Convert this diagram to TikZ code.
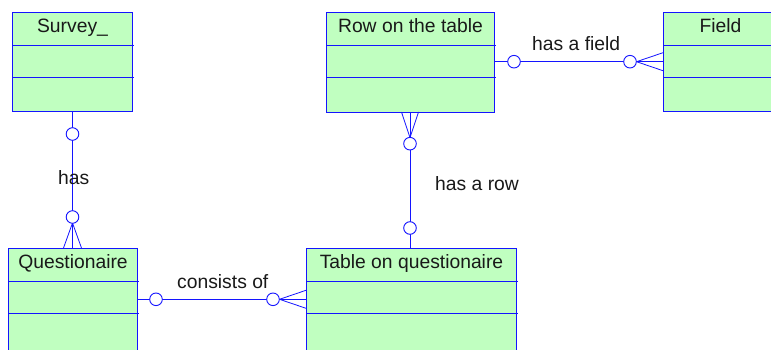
\documentclass[tikz,border=0pt]{standalone}
\usepackage{fontspec}
\setmainfont{Liberation Sans}
\usetikzlibrary{calc}
\definecolor{erblue}{RGB}{20,20,255}
\definecolor{ergreen}{RGB}{192,255,192}
\begin{document}
\begin{tikzpicture}[x=1pt,y=-1pt,
  entity/.style={draw=erblue, fill=ergreen, line width=1pt, rectangle, inner sep=0pt, anchor=north west},
  sepline/.style={draw=erblue, line width=0.9pt},
  etitle/.style={font=\fontsize{19.3}{21}\selectfont, anchor=base, inner sep=0pt, text=black!90},
  rlabel/.style={font=\fontsize{19.3}{21}\selectfont, anchor=base west, inner sep=0pt, text=black!90},
  conn/.style={draw=erblue, line width=0.9pt},
  crow/.style={draw=erblue, line width=0.8pt},
  opt/.style={draw=erblue, fill=white, line width=0.9pt, circle, inner sep=0pt, minimum size=12.6pt}]
\clip (0,0) rectangle (771,350);
\fill[white] (0,0) rectangle (771,350);
% entities
\newcommand{\erentity}[6]{%
  \node[entity, minimum width=#4-#2, minimum height=#5-#3] (#1) at (#2,#3) {};
  \draw[sepline] (#2,#3+33) -- (#4+1.5,#3+33);
  \draw[sepline] (#2,#3+65.5) -- (#4+1.5,#3+65.5);
  \node[etitle] (#1T) at ($(#1.north)+(0,20.5)$) {#6};
}
\erentity{survey}{12}{12}{132}{111}{Survey\_}
\erentity{row}{326}{12}{494}{112}{Row on the table}
\erentity{field}{663}{12}{777}{111}{Field}
\erentity{quest}{8}{248}{137}{390}{Questionaire}
\erentity{tableq}{306}{248}{516}{390}{Table on questionaire}
% Survey -- Questionaire
\coordinate (sq1) at ($(survey.south)+(0,22)$);
\coordinate (sq2) at ($(survey.south |- quest.north)+(0,-31)$);
\draw[conn] (survey.south) -- (survey.south |- quest.north);
\draw[crow] ($(sq2)+(0,6)$) -- ($(survey.south |- quest.north)+(-9,0)$);
\draw[crow] ($(sq2)+(0,6)$) -- ($(survey.south |- quest.north)+(9,0)$);
\node[opt] (c1) at (sq1) {};
\node[opt] (c2) at (sq2) {};
\node[rlabel] (l1) at (58,184) {has};
% Row -- Table on questionaire
\coordinate (rt0) at (410,112);
\coordinate (rt3) at (410,248);
\coordinate (rt1) at (410,143.7);
\coordinate (rt2) at (410,228);
\draw[conn] (rt0) -- (rt3);
\draw[crow] ($(rt1)+(0,-6)$) -- ($(rt0)+(-8.5,0)$);
\draw[crow] ($(rt1)+(0,-6)$) -- ($(rt0)+(8.5,0)$);
\node[opt] (c3) at (rt1) {};
\node[opt] (c4) at (rt2) {};
\node[rlabel] (l2) at (435,190.5) {has a row};
% Row -- Field
\coordinate (rf0) at ($(row.north east)+(0,49.7)$);
\coordinate (rf3) at (rf0 -| field.west);
\draw[conn] (rf0) -- (rf3);
\draw[crow] ($(rf3)+(-26.5,0)$) -- ($(rf3)+(0,-9)$);
\draw[crow] ($(rf3)+(-26.5,0)$) -- ($(rf3)+(0,9)$);
\node[opt] (c5) at ($(rf0)+(19,0)$) {};
\node[opt] (c6) at ($(rf3)+(-33,0)$) {};
\node[rlabel] (l3) at (532,50.5) {has a field};
% Questionaire -- Table
\coordinate (qt0) at ($(quest.north east)+(0,51.3)$);
\coordinate (qt3) at (qt0 -| tableq.west);
\draw[conn] (qt0) -- (qt3);
\draw[crow] ($(qt3)+(-26.5,0)$) -- ($(qt3)+(0,-9)$);
\draw[crow] ($(qt3)+(-26.5,0)$) -- ($(qt3)+(0,9)$);
\node[opt] (c7) at ($(qt0)+(18,0)$) {};
\node[opt] (c8) at ($(qt3)+(-33,0)$) {};
\node[rlabel] (l4) at (177,288) {consists of};
\end{tikzpicture}
\end{document}
